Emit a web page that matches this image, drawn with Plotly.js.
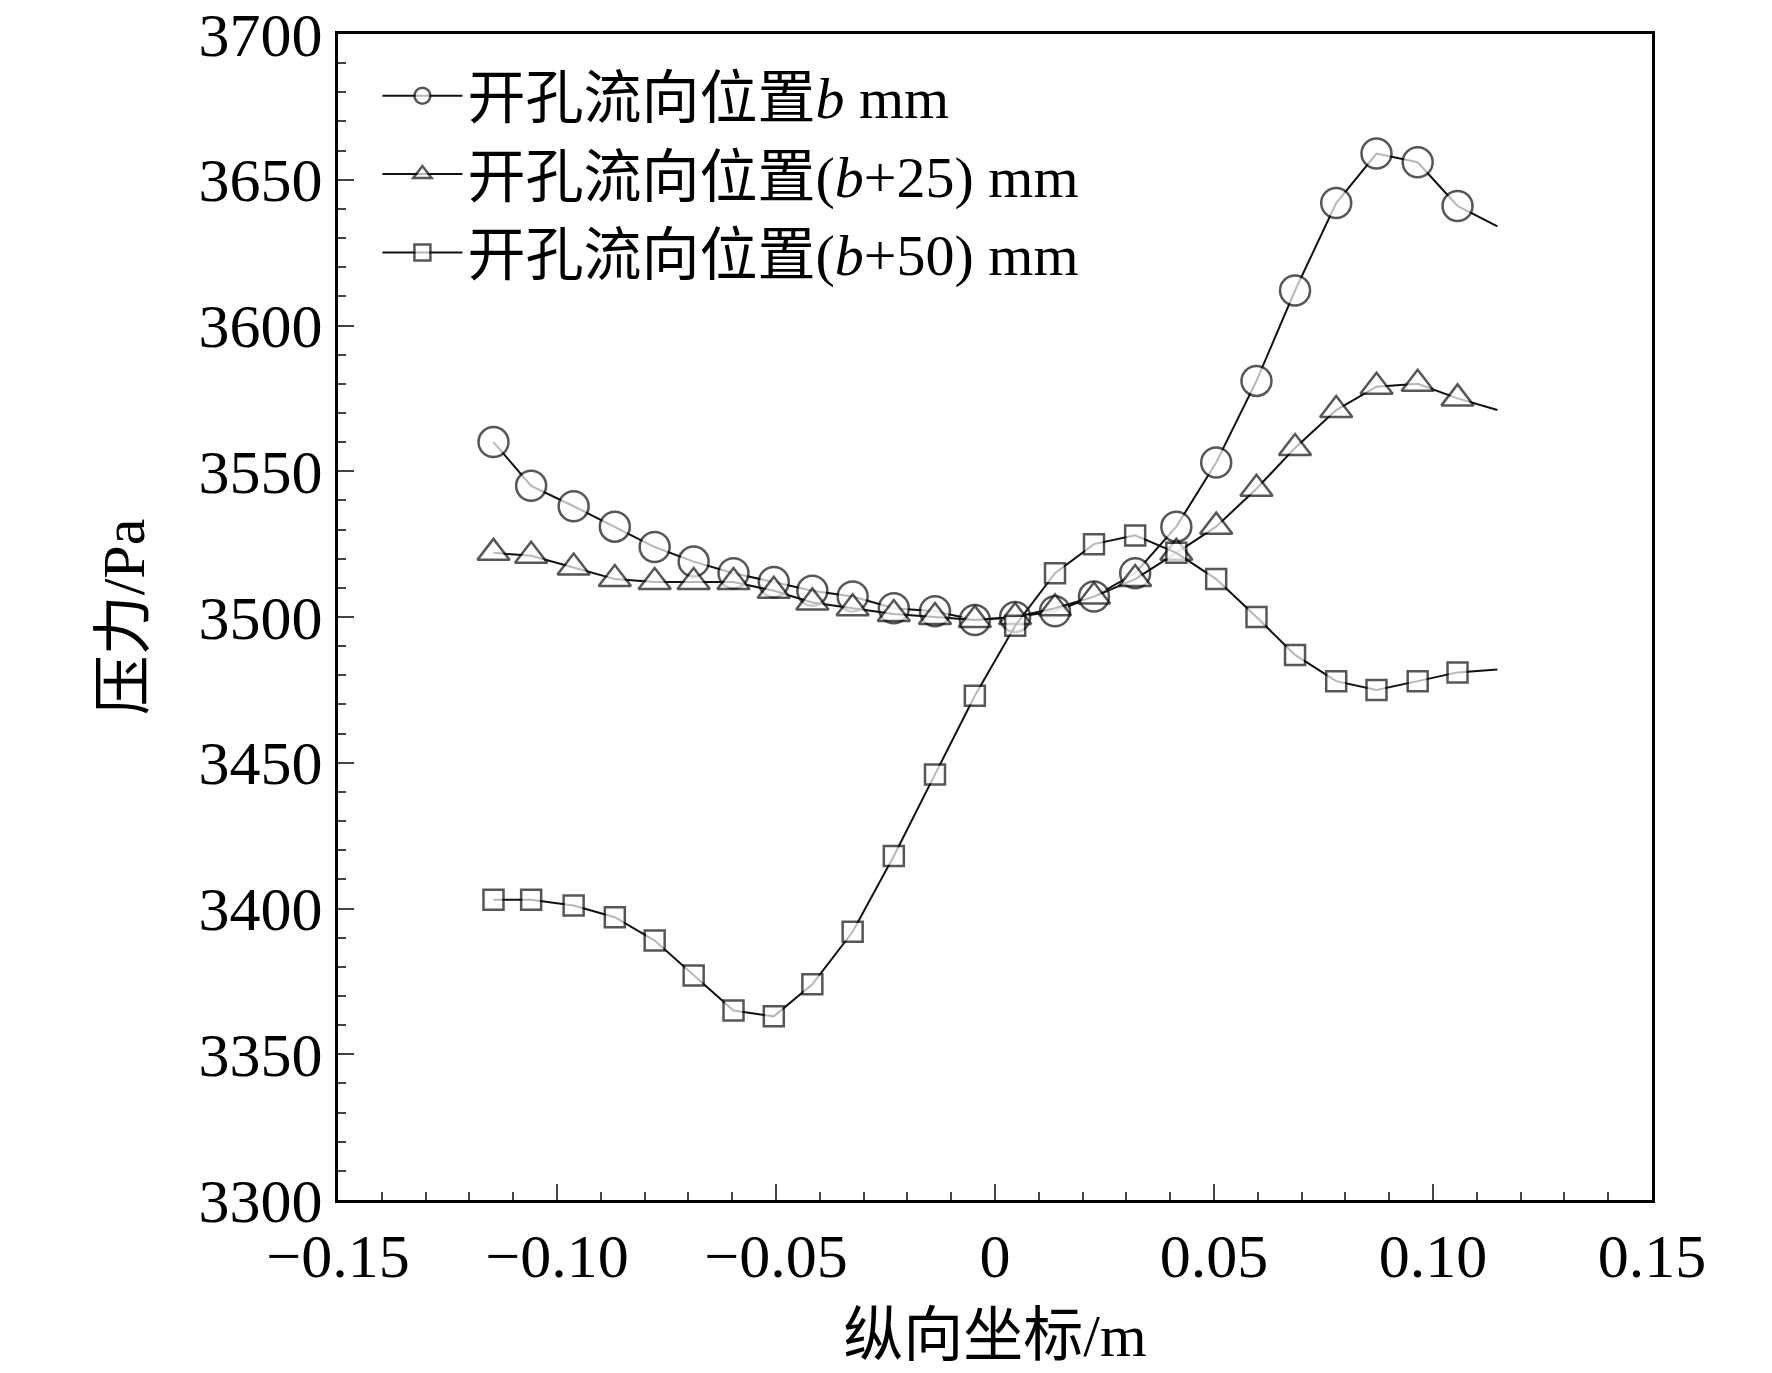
<!DOCTYPE html>
<html><head><meta charset="utf-8">
<script src="https://cdn.plot.ly/plotly-3.0.1.min.js"></script>
<style>body{margin:0;background:#fff}#plot{width:1772px;height:1373px}</style>
</head><body><div id="plot"></div>
<script>
// longitudinal coordinate (m); last point is the line end without marker
const xPos = [-0.1145,-0.1059,-0.0962,-0.0868,-0.0777,-0.0688,-0.0597,-0.0505,-0.0417,-0.0325,-0.0231,-0.0137,-0.0046,0.0046,0.0137,0.0226,0.0320,0.0414,0.0505,0.0597,0.0685,0.0779,0.0871,0.0965,0.1056,0.1147];
const presB   = [3560,3545,3538,3531,3524,3519,3515,3512,3509,3507,3503,3502,3499,3500,3502,3507,3515,3531,3553,3581,3612,3642,3659,3656,3641,3634];
const presB25 = [3522,3521,3517,3513,3512,3512,3512,3509,3505,3503,3501,3500,3499,3500,3503,3507,3513,3522,3531,3544,3558,3571,3579,3580,3575,3571];
const presB50 = [3403,3403,3401,3397,3389,3377,3365,3363,3374,3392,3418,3446,3473,3497,3515,3525,3528,3522,3513,3500,3487,3478,3475,3478,3481,3482];
const names = ['开孔流向位置<i>b</i> mm','开孔流向位置(<i>b</i>+25) mm','开孔流向位置(<i>b</i>+50) mm'];

const font = '"Liberation Serif", "Noto Sans CJK SC", serif';
function sizes(s) { return xPos.map((_, i) => i === xPos.length - 1 ? 0 : s); }
function trace(y, name, symbol, s) {
  return {x: xPos, y: y, name: name, mode: 'lines+markers', type: 'scatter',
    line: {color: '#111', width: 2},
    marker: {symbol: symbol, size: sizes(s), color: '#fff', line: {color: '#111', width: 2.5}}};
}
const data = [
  trace(presB, names[0], 'circle', 30),
  trace(presB25, names[1], 'triangle-up', 28),
  trace(presB50, names[2], 'square', 20)
];
const axisBase = {showline: true, mirror: true, linewidth: 3, linecolor: '#000', ticks: 'inside',
  ticklen: 16, tickwidth: 2, showgrid: false, zeroline: false,
  tickfont: {family: font, size: 62, color: '#000'}};
const layout = {
  margin: {l: 338, r: 120, t: 34, b: 173},
  paper_bgcolor: '#fff', plot_bgcolor: '#fff',
  font: {family: font, color: '#000'},
  xaxis: Object.assign({}, axisBase, {range: [-0.15, 0.15],
    tickvals: [-0.15,-0.1,-0.05,0,0.05,0.1,0.15],
    ticktext: ['−0.15','−0.10','−0.05','0','0.05','0.10','0.15'],
    minor: {dtick: 0.01, ticks: 'inside', ticklen: 8, tickwidth: 2},
    title: {text: '纵向坐标/m', font: {family: font, size: 60}, standoff: 25}}),
  yaxis: Object.assign({}, axisBase, {range: [3300, 3700], dtick: 50,
    minor: {dtick: 10, ticks: 'inside', ticklen: 8, tickwidth: 2},
    title: {text: '压力/Pa', font: {family: font, size: 60}, standoff: 35}}),
  showlegend: true,
  legend: {x: 0.03, y: 0.985, xanchor: 'left', yanchor: 'top', bgcolor: 'rgba(0,0,0,0)',
    font: {family: font, size: 58, color: '#000'}, itemwidth: 80, tracegroupgap: 0}
};
Plotly.newPlot('plot', data, layout, {displayModeBar: false});
</script></body></html>
